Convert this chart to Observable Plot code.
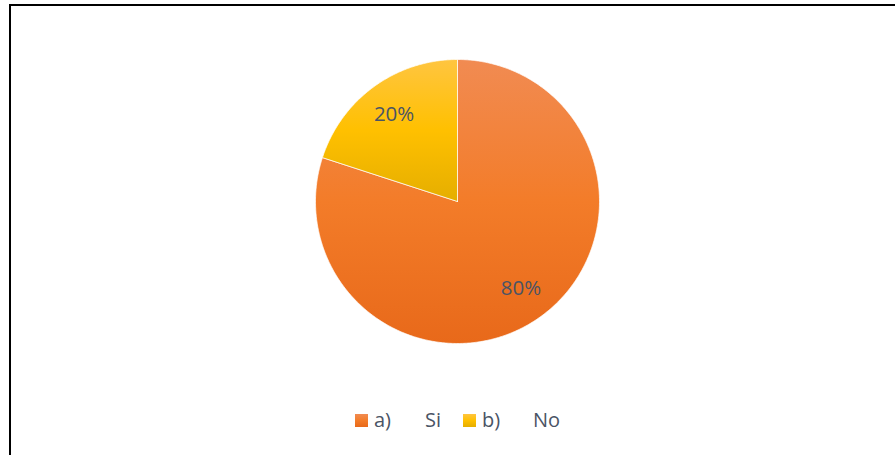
<!DOCTYPE html>
<html>
<head>
<meta charset="utf-8">
<script src="https://cdn.jsdelivr.net/npm/d3@7"></script>
<script src="https://cdn.jsdelivr.net/npm/@observablehq/plot@0.6"></script>
<style>
  html, body { margin: 0; padding: 0; background: #fff; }
  #wrap { position: relative; width: 895px; height: 455px; overflow: hidden; background: #fff; }
  #frame { position: absolute; left: 9px; top: 4px; width: 900px; height: 470px;
           border-top: 2px solid #000; border-left: 2px solid #000; box-sizing: border-box; pointer-events: none; }
  #chart { position: absolute; left: 0; top: 0; }
  #legend { position: absolute; left: 355px; top: 408px; display: flex;
            font-family: "Open Sans", sans-serif; font-size: 20px; color: #4a5465; line-height: 24px; }
  .item { display: flex; align-items: center; width: 108px; }
  .sw { width: 13px; height: 13px; margin-right: 6px; }
  .p1 { display: inline-block; width: 51px; }
</style>
</head>
<body>
<div id="wrap">
  <div id="chart"></div>
  <div id="legend"></div>
  <div id="frame"></div>
</div>
<script>
// ---- data ----
const categories = ["a)\tSi", "b)\tNo"];
const values = [80, 20];
const labels = ["80%", "20%"];
const gradTop = ["#F18B52", "#FFC540"];
const gradMid = ["#F37C29", "#FFC000"];
const gradBottom = ["#E8691A", "#E5AE00"];

// ---- build slices from values ----
const pie = d3.pie().sort(null).value(d => d.value);
const arcs = pie(categories.map((c, i) => ({ category: c, value: values[i], label: labels[i], i })));

function slicePolygon(a) {
  const pts = [{ x: 0, y: 0 }];
  const n = Math.max(2, Math.ceil((a.endAngle - a.startAngle) / 0.01));
  for (let k = 0; k <= n; k++) {
    const t = a.startAngle + (a.endAngle - a.startAngle) * k / n;
    pts.push({ x: Math.sin(t), y: Math.cos(t) });
  }
  pts.push({ x: 0, y: 0 });
  return pts;
}
const labelR = 0.76;
const labelData = arcs.map(a => {
  const m = (a.startAngle + a.endAngle) / 2;
  return { x: labelR * Math.sin(m), y: labelR * Math.cos(m), label: a.data.label };
});

const sliceMarks = arcs.map(a => Plot.line(slicePolygon(a), {
  x: "x", y: "y", fill: `url(#grad${a.data.i})`, stroke: "#ffffff", strokeWidth: 0.7, strokeLinejoin: "round"
}));

const plot = Plot.plot({
  width: 895,
  height: 400,
  marginLeft: 315,
  marginRight: 296,
  marginTop: 59,
  marginBottom: 57,
  x: { domain: [-1, 1], axis: null },
  y: { domain: [-1, 1], axis: null },
  style: { background: "transparent", overflow: "visible" },
  marks: [
    ...sliceMarks,
    Plot.text(labelData, {
      x: "x", y: "y", text: "label",
      fontSize: 20.5, fontFamily: "Open Sans", fill: "#4a5465"
    })
  ]
});

// gradient definitions
const defs = d3.select(plot).insert("defs", ":first-child");
arcs.forEach(a => {
  const i = a.data.i;
  const g = defs.append("linearGradient").attr("id", `grad${i}`)
    .attr("x1", 0).attr("y1", 0).attr("x2", 0).attr("y2", 1);
  g.append("stop").attr("offset", "0%").attr("stop-color", gradTop[i]);
  g.append("stop").attr("offset", "50%").attr("stop-color", gradMid[i]);
  g.append("stop").attr("offset", "100%").attr("stop-color", gradBottom[i]);
});
document.getElementById("chart").appendChild(plot);

// legend
const legend = d3.select("#legend");
categories.forEach((c, i) => {
  const [p1, p2] = c.split("\t");
  const item = legend.append("div").attr("class", "item");
  item.append("div").attr("class", "sw")
    .style("background", `linear-gradient(${gradTop[i]}, ${gradMid[i]}, ${gradBottom[i]})`);
  item.append("span").attr("class", "p1").text(p1);
  item.append("span").text(p2);
});
</script>
</body>
</html>
